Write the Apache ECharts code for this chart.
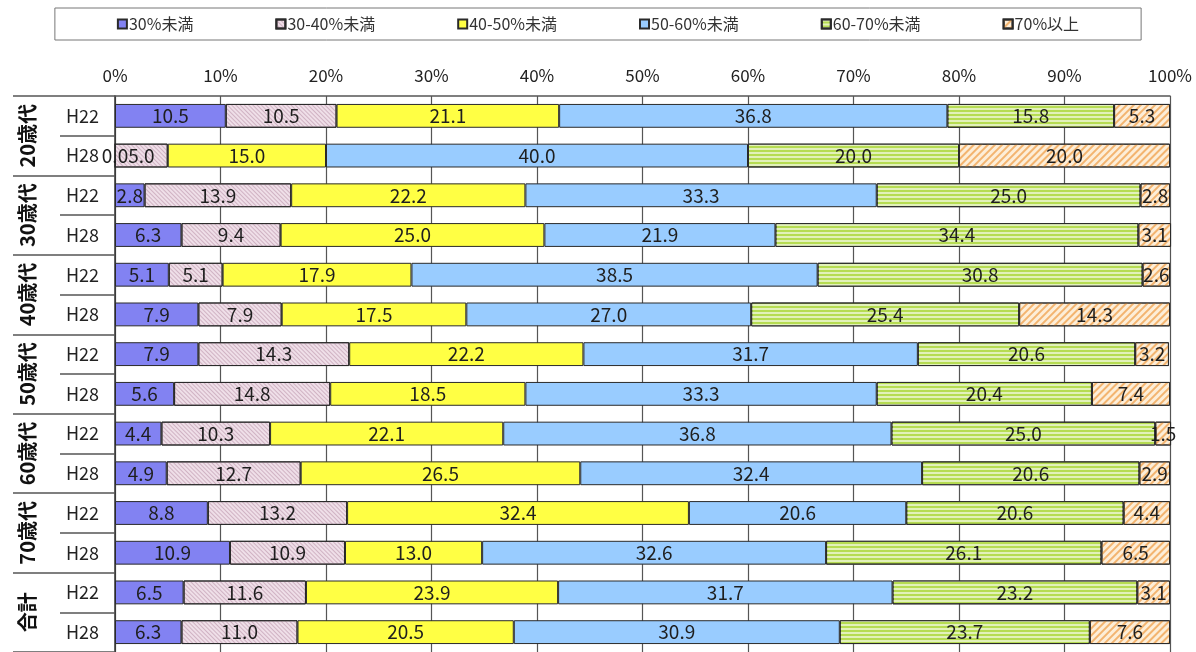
<!DOCTYPE html>
<html>
<head>
<meta charset="utf-8">
<script src="https://cdn.jsdelivr.net/npm/echarts@6/dist/echarts.min.js"></script>
<style>
html,body{margin:0;padding:0;background:#fff;}
#chart{width:1196px;height:652px;}
</style>
</head>
<body>
<div id="chart"></div>
<script>
// Row labels (top to bottom)
var groups = ['20歳代', '30歳代', '40歳代', '50歳代', '60歳代', '70歳代', '合計'];
var years = ['H22', 'H28'];
var seriesNames = ['30%未満', '30-40%未満', '40-50%未満', '50-60%未満', '60-70%未満', '70%以上'];
var xTickLabels = ['0%', '10%', '20%', '30%', '40%', '50%', '60%', '70%', '80%', '90%', '100%'];

// Values per series, rows in order: 20代H22, 20代H28, 30代H22, 30代H28, ... 合計H22, 合計H28
var under30 = [10.5, 0.0, 2.8, 6.3, 5.1, 7.9, 7.9, 5.6, 4.4, 4.9, 8.8, 10.9, 6.5, 6.3];
var r30to40 = [10.5, 5.0, 13.9, 9.4, 5.1, 7.9, 14.3, 14.8, 10.3, 12.7, 13.2, 10.9, 11.6, 11.0];
var r40to50 = [21.1, 15.0, 22.2, 25.0, 17.9, 17.5, 22.2, 18.5, 22.1, 26.5, 32.4, 13.0, 23.9, 20.5];
var r50to60 = [36.8, 40.0, 33.3, 21.9, 38.5, 27.0, 31.7, 33.3, 36.8, 32.4, 20.6, 32.6, 31.7, 30.9];
var r60to70 = [15.8, 20.0, 25.0, 34.4, 30.8, 25.4, 20.6, 20.4, 25.0, 20.6, 20.6, 26.1, 23.2, 23.7];
var over70  = [5.3, 20.0, 2.8, 3.1, 2.6, 14.3, 3.2, 7.4, 1.5, 2.9, 4.4, 6.5, 3.1, 7.6];

var rowKeys = [];
groups.forEach(function (g) { years.forEach(function (y) { rowKeys.push(g + '|' + y); }); });

var numFont = "'Noto Sans CJK JP', sans-serif";
var cjkFont = "'Noto Sans CJK JP', sans-serif";

var styles = [
  { color: '#8282f2' },
  { color: '#efdfe8', decal: { symbol: 'rect', symbolSize: 1, color: 'rgba(170,125,150,0.45)', dashArrayX: [1, 0], dashArrayY: [1, 2], rotation: Math.PI / 4 } },
  { color: '#ffff44' },
  { color: '#99ccff' },
  { color: '#b6dc52', decal: { symbol: 'rect', symbolSize: 1, color: 'rgba(255,255,255,0.6)', dashArrayX: [1, 0], dashArrayY: [1.5, 1.5], rotation: 0 } },
  { color: '#fdeed8', decal: { symbol: 'rect', symbolSize: 1, color: 'rgba(240,165,85,0.8)', dashArrayX: [1, 0], dashArrayY: [2, 3], rotation: -Math.PI / 4 } }
];
var values = [under30, r30to40, r40to50, r50to60, r60to70, over70];

var series = seriesNames.map(function (name, i) {
  var st = styles[i];
  var itemStyle = { color: st.color, borderColor: '#2a2a2a', borderWidth: 1 };
  if (st.decal) itemStyle.decal = st.decal;
  return {
    name: name,
    type: 'bar',
    stack: 'total',
    barWidth: '60%',
    clip: false,
    itemStyle: itemStyle,
    label: {
      show: true,
      position: 'inside',
      color: '#1e1e1e',
      fontSize: 19,
      fontFamily: numFont,
      formatter: function (p) { return p.value.toFixed(1); }
    },
    data: values[i]
  };
});

var chart = echarts.init(document.getElementById('chart'));
chart.setOption({
  animation: false,
  backgroundColor: '#fff',
  aria: { enabled: false },
  legend: {
    top: 8,
    left: 'center',
    itemGap: 82,
    itemWidth: 9,
    itemHeight: 9,
    icon: 'rect',
    padding: [8, 62],
    borderColor: '#777',
    borderWidth: 1,
    textStyle: { fontSize: 16, color: '#333', fontFamily: numFont, padding: [0, 0, 0, -3] },
    data: seriesNames
  },
  grid: { left: 115, right: 26, top: 96, height: 560, containLabel: false },
  xAxis: {
    type: 'value',
    position: 'top',
    min: 0,
    max: 100,
    interval: 10,
    axisLine: { show: true, lineStyle: { color: '#555', width: 1.5 } },
    axisTick: { show: false },
    splitLine: { show: true, lineStyle: { color: '#555', width: 1.2 } },
    axisLabel: {
      margin: 12,
      fontSize: 17,
      color: '#222',
      fontFamily: numFont,
      formatter: function (v) { return xTickLabels[Math.round(v / 10)]; }
    }
  },
  yAxis: [
    {
      type: 'category',
      inverse: true,
      data: rowKeys,
      axisLine: { show: true, lineStyle: { color: '#333', width: 1.5 } },
      axisTick: { show: true, length: 55, interval: 0, lineStyle: { color: '#555', width: 1.5 } },
      axisLabel: {
        interval: 0,
        margin: 16,
        fontSize: 18,
        color: '#222',
        fontFamily: numFont,
        formatter: function (v) { return v.split('|')[1]; }
      }
    },
    {
      type: 'category',
      inverse: true,
      position: 'left',
      offset: 0,
      data: groups,
      axisLine: { show: false },
      axisTick: { show: true, length: 102, interval: 0, lineStyle: { color: '#555', width: 1.5 } },
      axisLabel: {
        interval: 0,
        rotate: 90,
        margin: 78,
        fontSize: 20,
        fontWeight: 'bold',
        color: '#111',
        fontFamily: cjkFont
      }
    }
  ],
  series: series
});
</script>
</body>
</html>
